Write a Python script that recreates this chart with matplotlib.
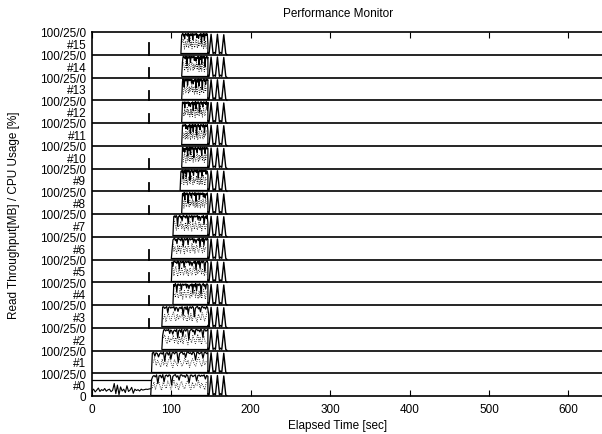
import numpy as np
import matplotlib
matplotlib.use('Agg')
import matplotlib.pyplot as plt

plt.rcParams['font.family'] = ['Liberation Sans', 'DejaVu Sans']

n_panels = 16
# start / end of the busy read phase on each node (sec)
start_times = [74, 75, 88, 88, 102, 100, 100, 102, 113, 111, 113, 113, 113, 113, 113, 112]
end_times = [146, 146, 146, 147, 146, 146, 146, 146, 146, 146, 146, 146, 146, 146, 146, 146]

# read throughput profile during busy phase (fraction of panel)
tp_profile = [0.72, 0.86, 0.90, 0.84, 0.93, 0.55, 0.88, 0.91, 0.80, 0.94, 0.62, 0.89,
              0.92, 0.85, 0.93, 0.90, 0.48, 0.86, 0.91, 0.94, 0.83, 0.89, 0.70, 0.92,
              0.93, 0.87, 0.90, 0.82, 0.94, 0.88, 0.58, 0.91, 0.92, 0.85, 0.89, 0.93,
              0.66, 0.90, 0.92, 0.86, 0.91, 0.88, 0.93, 0.75, 0.90, 0.87]
# cpu usage samples during busy phase (dotted)
cpu_profile = [0.35, 0.62, 0.28, 0.55, 0.70, 0.42, 0.25, 0.60, 0.48, 0.33, 0.66, 0.52,
               0.30, 0.45, 0.72, 0.38, 0.58, 0.26, 0.50, 0.64, 0.40, 0.31, 0.56, 0.69,
               0.44, 0.29, 0.61, 0.36, 0.53, 0.47, 0.68, 0.34, 0.57, 0.43, 0.27, 0.63]
base_level = 0.06

# three write bursts after the read phase
burst_times = [146, 147.5, 150, 152.5, 154, 155.5, 158, 160.5, 162, 163.5, 166, 168.5, 170]
burst_vals = [0.10, 0.05, 0.90, 0.05, 0.10, 0.05, 0.90, 0.05, 0.10, 0.05, 0.88, 0.05, 0.0]

# node #0 idle phase before the read
idle_times = [0, 2, 4, 6, 8, 10, 12, 14, 16, 18, 20, 22, 24, 26, 28, 30, 32, 34, 36,
              38, 40, 42, 44, 46, 48, 50, 52, 54, 56, 58, 60, 62, 64, 66, 68, 70, 72, 74]
idle_vals = [0.22, 0.30, 0.18, 0.26, 0.35, 0.20, 0.28, 0.24, 0.33, 0.21, 0.27, 0.30,
             0.19, 0.25, 0.55, 0.10, 0.48, 0.05, 0.40, 0.22, 0.30, 0.15, 0.45, 0.20,
             0.26, 0.38, 0.12, 0.30, 0.24, 0.28, 0.22, 0.30, 0.26, 0.28, 0.30, 0.29, 0.31, 0.32]
idle_top = 0.72

# small spike at 72 sec on some nodes
spike_panels = [3, 4, 5, 6, 8, 9, 10, 12, 13, 14, 15]
spike_time = 72
spike_heights = [0.40, 0.40, 0.40, 0.40, 0.35, 0.35, 0.40, 0.40, 0.40, 0.40, 0.50]

ytick_pos = [0] + [v for k in range(n_panels) for v in (k + 0.5, k + 1)]
ytick_labels = ['0'] + [s for k in range(n_panels) for s in ('#%d' % k, '100/25/0')]

fig = plt.figure(figsize=(6.02, 4.35), dpi=100)
ax = fig.add_axes([92 / 602, 38 / 435, 516 / 602, 364 / 435])

for i in range(n_panels):
    s, e = start_times[i], end_times[i]
    tp = np.roll(tp_profile, i * 5)
    cpu = np.roll(cpu_profile, i * 7)
    t = np.linspace(s + 1, e, len(tp))
    ax.plot(np.r_[s, t, e], i + np.r_[base_level, tp, base_level], color='black', lw=0.9)
    ax.plot([s, e], [i + base_level, i + base_level], color='black', lw=0.9)
    ax.plot(np.linspace(s + 2, e - 2, len(cpu)), i + cpu, color='black', lw=0.6, ls=':')
    ax.plot(burst_times, i + np.array(burst_vals), color='black', lw=1.0)
    if i > 0:
        ax.axhline(i, color='black', lw=1.2)

ax.plot(idle_times, idle_vals, color='black', lw=0.8)
ax.plot([0, start_times[0]], [idle_top, idle_top], color='black', lw=0.9)

for p, h in zip(spike_panels, spike_heights):
    ax.plot([spike_time, spike_time], [p, p + h], color='black', lw=1.3)

ax.set_xlim(0, 650)
ax.set_ylim(0, n_panels)
ax.set_xticks([0, 100, 200, 300, 400, 500, 600])
ax.set_yticks(ytick_pos)
ax.set_yticklabels(ytick_labels)
ax.tick_params(axis='x', direction='in', top=True, labelsize=8.5, length=4, pad=5)
ax.tick_params(axis='y', direction='in', length=0, labelsize=8.5, pad=4)
for sp in ax.spines.values():
    sp.set_linewidth(1.2)

ax.set_xlabel('Elapsed Time [sec]', fontsize=8.5)
ax.xaxis.set_label_coords((338 - 92) / 516, -0.062)
ax.set_ylabel('Read Throughput[MB] / CPU Usage [%]', fontsize=8.5)
ax.yaxis.set_label_coords(-0.14, 0.5)
fig.text(338 / 602, 1 - 14 / 435, 'Performance Monitor', ha='center', va='center', fontsize=8.5)

fig.savefig('out.png', dpi=100)
